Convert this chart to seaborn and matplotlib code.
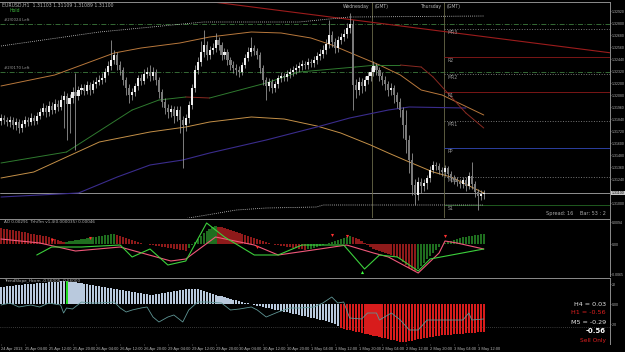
import numpy as np
import matplotlib
matplotlib.use("Agg")
import matplotlib.pyplot as plt
import seaborn as sns

# ---------------- data ----------------
# prices stored in 1/10000 above 1.0 (3185 -> 1.3185); one entry per H1 bar
open_first = 3182
close_pts = [
    3185, 3183, 3181, 3183, 3178, 3181, 3175, 3179, 3183, 3181,
    3185, 3182, 3187, 3191, 3195, 3191, 3197, 3193, 3199, 3196,
    3203, 3207, 3199, 3205, 3211, 3207, 3213, 3215, 3212, 3218,
    3213, 3219, 3221, 3223, 3225, 3231, 3237, 3243, 3248, 3238,
    3233, 3223, 3215, 3208, 3211, 3217, 3225, 3222, 3229, 3231,
    3227, 3231, 3223, 3211, 3201, 3195, 3191, 3194, 3187, 3193,
    3183, 3178, 3185, 3198, 3215, 3233, 3241, 3251, 3258, 3248,
    3253, 3255, 3263, 3258, 3248, 3251, 3243, 3238, 3235, 3233,
    3231, 3238, 3245, 3251, 3255, 3252, 3248, 3235, 3223, 3217,
    3221, 3215, 3219, 3225, 3227, 3226, 3229, 3231, 3233, 3235,
    3237, 3239, 3238, 3241, 3240, 3243, 3247, 3249, 3253, 3259,
    3268, 3261, 3255, 3263, 3266, 3269, 3275, 3279, 3218, 3213,
    3221, 3217, 3223, 3227, 3231, 3237, 3233, 3227, 3223, 3219,
    3213, 3215, 3208, 3201, 3193, 3178, 3163, 3143, 3118, 3108,
    3121, 3117, 3120, 3125, 3133, 3138, 3137, 3133, 3131, 3135,
    3129, 3125, 3123, 3121, 3119, 3123, 3117, 3127, 3119, 3111,
    3107, 3109, 3110]
high_pts = [
    3189, 3188, 3186, 3187, 3186, 3185, 3184, 3183, 3187, 3186,
    3190, 3188, 3191, 3195, 3200, 3198, 3202, 3201, 3204, 3203,
    3208, 3212, 3210, 3209, 3216, 3230, 3217, 3219, 3219, 3222,
    3221, 3223, 3226, 3228, 3230, 3235, 3242, 3263, 3253, 3251,
    3242, 3236, 3226, 3219, 3215, 3220, 3228, 3229, 3234, 3236,
    3238, 3236, 3234, 3226, 3214, 3205, 3199, 3198, 3197, 3197,
    3197, 3187, 3189, 3202, 3219, 3238, 3246, 3262, 3273, 3262,
    3257, 3260, 3270, 3266, 3261, 3255, 3254, 3246, 3242, 3239,
    3237, 3241, 3249, 3256, 3266, 3258, 3255, 3251, 3238, 3226,
    3225, 3224, 3222, 3228, 3231, 3230, 3233, 3235, 3237, 3239,
    3241, 3243, 3242, 3245, 3244, 3247, 3251, 3254, 3258, 3264,
    3283, 3272, 3265, 3267, 3270, 3274, 3280, 3290, 3283, 3224,
    3226, 3225, 3227, 3231, 3236, 3242, 3240, 3236, 3231, 3227,
    3222, 3220, 3218, 3211, 3205, 3196, 3193, 3168, 3150, 3124,
    3126, 3125, 3124, 3128, 3137, 3142, 3141, 3140, 3136, 3138,
    3137, 3132, 3128, 3126, 3124, 3126, 3126, 3131, 3141, 3122,
    3114, 3113, 3113]
low_pts = [
    3178, 3179, 3177, 3176, 3174, 3173, 3170, 3171, 3176, 3177,
    3178, 3178, 3179, 3184, 3188, 3186, 3187, 3189, 3190, 3192,
    3193, 3175, 3163, 3170, 3200, 3153, 3203, 3209, 3208, 3209,
    3208, 3210, 3215, 3218, 3219, 3221, 3228, 3233, 3239, 3233,
    3228, 3218, 3208, 3200, 3203, 3207, 3213, 3218, 3219, 3225,
    3222, 3223, 3218, 3205, 3196, 3189, 3185, 3186, 3180, 3182,
    3170, 3135, 3172, 3180, 3194, 3211, 3229, 3237, 3246, 3243,
    3244, 3249, 3251, 3253, 3243, 3244, 3238, 3233, 3230, 3228,
    3226, 3228, 3235, 3242, 3247, 3248, 3244, 3230, 3218, 3203,
    3212, 3210, 3211, 3215, 3221, 3222, 3222, 3225, 3227, 3229,
    3231, 3233, 3234, 3234, 3236, 3236, 3239, 3243, 3245, 3249,
    3255, 3256, 3250, 3251, 3259, 3262, 3265, 3270, 3193, 3205,
    3208, 3210, 3212, 3219, 3222, 3227, 3228, 3222, 3218, 3213,
    3207, 3208, 3200, 3195, 3186, 3165, 3150, 3130, 3108, 3098,
    3103, 3110, 3112, 3114, 3121, 3130, 3133, 3129, 3127, 3127,
    3125, 3121, 3119, 3117, 3115, 3115, 3112, 3114, 3114, 3106,
    3093, 3103, 3104]

# moving averages / envelopes read as knots (bar index, price pts)
ma_color_bar = [0, 22, 44, 53, 62, 70, 89, 100, 119, 126, 134, 141, 145, 156, 162]
ma_color_val = [3140, 3151, 3193, 3203, 3206, 3205, 3220, 3231, 3236, 3238, 3238, 3236, 3226, 3190, 3175]
ma_up_bar = [0, 18, 38, 47, 60, 70, 84, 94, 104, 111, 119, 127, 134, 141, 148, 162]
ma_up_val = [3217, 3228, 3250, 3255, 3260, 3266, 3271, 3270, 3265, 3258, 3248, 3238, 3228, 3213, 3208, 3188]
ma_lo_bar = [0, 11, 33, 50, 62, 70, 84, 95, 106, 114, 124, 130, 137, 145, 151, 162]
ma_lo_val = [3125, 3131, 3161, 3171, 3176, 3181, 3186, 3184, 3177, 3170, 3158, 3150, 3141, 3131, 3126, 3110]
ma_blue_bar = [0, 26, 39, 50, 61, 70, 89, 106, 117, 130, 137, 156]
ma_blue_val = [3106, 3110, 3126, 3138, 3143, 3150, 3163, 3176, 3185, 3193, 3196, 3195]
env_up_bar = [0, 33, 68, 100, 117, 162]
env_up_val = [3257, 3271, 3281, 3281, 3286, 3287]
env_lo_bar = [44, 63, 69, 79, 89, 106, 108, 162]
env_lo_val = [3073, 3085, 3088, 3093, 3095, 3096, 3098, 3098]
trend_bar = [66, 205]
trend_val = [3303, 3250]

# daily pivot levels (pts)
pivot_names = ["MR3", "R2", "MR2", "R1", "MR1", "PP", "MS1", "S1"]
pivot_vals = [3274, 3246, 3229, 3211, 3182, 3155, 3126, 3098]
level_lines = [3279, 3231]          # green dash-dot levels
level_names = ["#2/0024 Left", "#2/0170 Left"]
last_price = 3110

# AO / trend-trigger panel (x1e-4)
ao_hist = [
    16, 15.5, 15, 14.5, 14, 13.5, 13, 12.5, 12, 11,
    10.5, 10, 9.5, 9, 8.5, 8, 7, 6, 5, 4,
    3, 2, 2.5, 3, 3.5, 4, 4.5, 5, 5.5, 6,
    6.5, 7, 7.5, 8, 8.5, 9, 9.5, 10, 10.5, 9.5,
    8.5, 7.5, 6.5, 5.5, 4.5, 3.5, 2.5, 1.5, 0.5, 0,
    -0.5, -1, -1.5, -2, -2.5, -3, -3.5, -4, -4.5, -5,
    -5.5, -6, -6.5, -4, -1, 2, 5, 8, 11, 13,
    15, 17, 18, 17.5, 17, 16, 15, 14, 13, 12,
    11, 10, 9, 8, 7, 6, 5, 4, 3, 2,
    1, 0, -0.5, -1, -1.5, -2, -2.5, -3, -3.5, -4,
    -4.5, -5, -5.5, -5, -4.5, -4, -3, -2, -1, 0,
    1, 2, 3, 4, 5, 6, 7, 8, 7, 6,
    5, 3, 1, -1, -3, -5, -6, -7, -8, -9,
    -10, -11, -12, -13, -15, -18, -21, -24, -26, -27,
    -25, -22, -19, -15, -12, -9, -6, -3, 0, 1,
    2, 3, 4, 5, 6, 7, 7.5, 8, 8.5, 9,
    9.5, 10, 10.5]
ao_red_bar = [0, 13, 25, 40, 57, 62, 72, 85, 93, 107, 116, 125, 130, 140, 147, 149, 153, 162]
ao_red_val = [5, 1, -7, -3, -17, -15, 7, -1, -11, -5, -1, -9, -13, -29, -9, 3, 1, -5]
ao_grn_bar = [12, 17, 27, 40, 44, 50, 56, 62, 69, 75, 85, 93, 101, 115, 122, 127, 133, 140, 144, 162]
ao_grn_val = [-11, -3, -3, -1, -13, -5, -21, -17, 21, 7, -11, -11, -1, -1, -25, -11, -13, -27, -15, -5]
sell_arrow_bar = [17, 30, 86, 111, 116, 149]
sell_arrow_val = [4, 6, -3, 9, 8, 8]
buy_arrow_bar = [121]
buy_arrow_val = [-28]

# trend-slope panel (x1/50)
slope_hist = [
    17, 17.5, 18, 18, 18.5, 19, 19, 19.5, 20, 20,
    20.5, 20.5, 21, 21, 21.5, 21.5, 22, 22, 22.5, 22.5,
    23, 23, 23, 22.5, 22, 22, 21.5, 21, 20.5, 20,
    19.5, 19, 18.5, 18, 17.5, 17, 16.5, 16, 15.5, 15,
    14.5, 14, 13.5, 13, 12.5, 12, 11.5, 11, 10.5, 10,
    9.5, 9.5, 10, 10.5, 11, 11.5, 12, 12.5, 13, 13.5,
    14, 14.5, 15, 15, 15.5, 15.5, 15, 14, 13, 12,
    11, 10, 9, 8.5, 8, 7, 6, 5, 4.5, 4,
    3, 2, 1.5, 1, 0, -1, -1.5, -2, -3, -3.5,
    -4, -5, -5.5, -6, -7, -7.5, -8, -9, -9.5, -10,
    -11, -11.5, -12, -13, -13.5, -14, -15, -15.5, -16, -17,
    -18, -19, -20, -22, -24, -25, -25.5, -26, -27, -27.5,
    -28, -29, -29.5, -30, -31, -31.5, -32, -33, -33.5, -34,
    -35, -35.5, -36, -37, -37.5, -38, -37.5, -37, -36.5, -36,
    -35, -34.5, -34, -33.5, -33, -32.5, -32, -31.5, -31, -31,
    -30.5, -30.5, -30, -30, -29.5, -29.5, -29, -29, -28.5, -28.5,
    -28, -28, -28]
signal_bar = 22
sell_start = 114
slope_line_bar = [0, 3, 6, 10, 13, 16, 20, 21, 22, 24, 27, 30, 33, 38, 40, 42, 44, 47, 49, 51,
                  53, 56, 58, 61, 63, 66, 69, 74, 77, 80, 84, 86, 89, 93, 97, 100, 105, 108,
                  111, 113, 115, 117, 121, 123, 126, 127, 131, 134, 137, 140, 143, 146, 151,
                  155, 157, 158, 162]
slope_line_val = [-1, 1, -3, -1, -3, 1, -1, -9, -4, -5, 2, 1, 1, 2, -4, -8, -6, -4, -3, -13,
                  -18, -13, -11, -18, -6, 2, 2, 1, -6, -5, -3, -6, -13, -8, -4, -4, -3, 1,
                  7, 1, 2, -14, -15, -9, -9, -16, -9, -16, -26, -26, -16, -16, -16,
                  -16, -9, -16, -15]
tf_labels = ["H4 = 0.03", "H1 = -0.56", "M5 = -0.29", "-0.56", "Sell Only"]

time_labels = ["24 Apr 2013", "25 Apr 04:00", "25 Apr 12:00", "25 Apr 20:00", "26 Apr 04:00",
               "26 Apr 12:00", "26 Apr 20:00", "29 Apr 04:00", "29 Apr 12:00", "29 Apr 20:00",
               "30 Apr 04:00", "30 Apr 12:00", "30 Apr 20:00", "1 May 04:00", "1 May 12:00",
               "1 May 20:00", "2 May 04:00", "2 May 12:00", "2 May 20:00", "3 May 04:00",
               "3 May 12:00"]

# ---------------- figure ----------------
sns.set_theme(style="dark", rc={"axes.facecolor": "black", "figure.facecolor": "black"})
plt.rcParams["font.family"] = ["DejaVu Sans"]
NARROW = ["Liberation Sans Narrow", "Liberation Sans", "DejaVu Sans"]

W, H = 625, 352
fig = plt.figure(figsize=(W / 100, H / 100), dpi=100, facecolor="black")


def axes_px(x0, y0, x1, y1):
    return fig.add_axes([x0 / W, 1 - y1 / H, (x1 - x0) / W, (y1 - y0) / H])


ax_m = axes_px(0, 2, 610, 218)
ax_a = axes_px(0, 219, 610, 276)
ax_b = axes_px(0, 278, 610, 344)

PX = 2.98
XL = (-1 / PX, (610 - 1) / PX)
GRAY = "#b4b4b4"
FS = 3.3
TFS = 2.5

for ax in (ax_m, ax_a, ax_b):
    ax.set_facecolor("black")
    ax.set_xlim(*XL)
    ax.grid(False)
    for s in ("left", "bottom"):
        ax.spines[s].set_visible(False)
    for s in ("top", "right"):
        ax.spines[s].set_visible(True)
        ax.spines[s].set_color("#8c8c8c")
        ax.spines[s].set_linewidth(0.7)
    ax.yaxis.tick_right()
    ax.tick_params(axis="y", colors="#8c8c8c", labelcolor=GRAY, labelsize=TFS,
                   length=1.0, width=0.5, pad=0.5)
    ax.tick_params(axis="x", bottom=False, labelbottom=False)

P = lambda v: 1 + np.asarray(v, dtype=float) / 1e4

# ---- main price panel ----
bars = np.arange(len(close_pts))
c = P(close_pts)
o = np.r_[P(open_first), c[:-1]]
hi = P(high_pts)
lo = P(low_pts)
ax_m.set_ylim(1.3085, 1.3301)

# horizontal reference levels
for lv in level_lines:
    ax_m.axhline(P(lv), color="#3d7a3d", lw=0.6, ls=(0, (6, 2, 1, 2)), zorder=1)
for lv, nm in zip(level_lines, level_names):
    ax_m.text(1, P(lv) + 0.0002, nm, fontsize=2.8, color="#9a9a9a", va="bottom", ha="left")
ax_m.axhline(P(last_price), color="#a8a8a8", lw=0.6, zorder=1)

# day separators
for xv in (124.5, 148.5):
    ax_m.axvline(xv, color="#6a6a4a", lw=0.6, zorder=1)
ax_m.text(123.6, 1.32995, "Wednesday", fontsize=FS, color=GRAY, ha="right", va="top")
ax_m.text(125.4, 1.32995, "(GMT)", fontsize=FS, color=GRAY, ha="left", va="top")
ax_m.text(147.6, 1.32995, "Thursday", fontsize=FS, color=GRAY, ha="right", va="top")
ax_m.text(149.4, 1.32995, "(GMT)", fontsize=FS, color=GRAY, ha="left", va="top")

# pivots
piv_style = {"MR3": ("#777777", ":"), "R2": ("#7a1616", "-"), "MR2": ("#777777", ":"),
             "R1": ("#7a1616", "-"), "MR1": ("#777777", ":"), "PP": ("#2c3fa0", "-"),
             "MS1": ("#777777", ":"), "S1": ("#1f5a1f", "-")}
for nm, pv in zip(pivot_names, pivot_vals):
    col, ls = piv_style[nm]
    ax_m.hlines(P(pv), 148.5, XL[1], color=col, lw=0.7, ls=ls, zorder=1)
    ax_m.text(150.0, P(pv) - 0.0001, nm, fontsize=FS, color="#9a9a9a", va="top", ha="left")

# trend line
sns.lineplot(x=trend_bar, y=P(trend_val), ax=ax_m, color="#9c1c1c", lw=0.8, legend=False)

# envelopes / MAs
sns.lineplot(x=env_up_bar, y=P(env_up_val), ax=ax_m, color="#d8d8d8", lw=0.6,
             ls=(0, (1, 1.5)), legend=False)
sns.lineplot(x=env_lo_bar, y=P(env_lo_val), ax=ax_m, color="#d8d8d8", lw=0.6,
             ls=(0, (1, 1.5)), legend=False)
sns.lineplot(x=ma_up_bar, y=P(ma_up_val), ax=ax_m, color="#b8783c", lw=0.7, legend=False)
sns.lineplot(x=ma_lo_bar, y=P(ma_lo_val), ax=ax_m, color="#c49048", lw=0.7, legend=False)
sns.lineplot(x=ma_blue_bar, y=P(ma_blue_val), ax=ax_m, color="#3a2c8c", lw=0.8, legend=False)
mcv = P(ma_color_val)
for k in range(len(ma_color_bar) - 1):
    col = "#2f7a2f" if mcv[k + 1] >= mcv[k] else "#8a2a22"
    ax_m.plot(ma_color_bar[k:k + 2], mcv[k:k + 2], color=col, lw=0.7, zorder=2)

# candles
ax_m.vlines(bars, lo, hi, color="#a0a0a0", lw=0.55, zorder=3)
bull = c >= o
body = np.where(np.abs(c - o) < 0.00006, 0.00006, c - o)
ax_m.bar(bars, body, bottom=o, width=0.7,
         color=np.where(bull, "#efefef", "#7a7a7a"), linewidth=0, zorder=4)

ptick = [1.3292 - 0.0012 * k for k in range(17) if k != 15]
ax_m.set_yticks(ptick)
ax_m.set_yticklabels([f"{v:.5f}" for v in ptick], family=NARROW)
ax_m.text(XL[1] + 0.55, P(last_price), f"{P(last_price):.5f}", fontsize=TFS, color="black",
          family=NARROW, va="center", ha="left",
          bbox=dict(boxstyle="square,pad=0.05", fc="#c8c8c8", ec="none"),
          clip_on=False, zorder=6)

ax_m.text(0.5, 1.33, "EURUSD,H1  1.31103 1.31109 1.31089 1.31100", fontsize=FS,
          color=GRAY, ha="left", va="top")
ax_m.text(3, 1.3293, "Hold", fontsize=FS, color="#3cb33c", ha="left", va="center")
ax_m.text(203.0, 1.30895, "Spread: 16    Bar: 53 : 2", fontsize=3.6, color="#a8a8a8",
          ha="right", va="center")

# ---- AO panel ----
ax_a.set_ylim(-32, 25)
ao = np.asarray(ao_hist, dtype=float)
ao_col = ["#1f6e1f" if (k > 0 and ao[k] > ao[k - 1]) else "#8e1a1a" for k in range(len(ao))]
ax_a.bar(bars, ao, width=0.75, color=ao_col, linewidth=0, zorder=2)
sns.lineplot(x=ao_red_bar, y=ao_red_val, ax=ax_a, color="#f0587a", lw=0.8, legend=False)
sns.lineplot(x=ao_grn_bar, y=ao_grn_val, ax=ax_a, color="#3cd03c", lw=0.8, legend=False)
ax_a.scatter(sell_arrow_bar, sell_arrow_val, marker="v", s=5, color="#ff3030", zorder=5, linewidths=0)
ax_a.scatter(buy_arrow_bar, buy_arrow_val, marker="^", s=5, color="#40ff40", zorder=5, linewidths=0)
ax_a.set_yticks([22, 0, -30])
ax_a.set_yticklabels(["0.0094", "0.00", "-0.0065"], family=NARROW)
ax_a.text(1, 24, "AO 0.00291  TrhiTrn v1.4(0.000035) 0.00046", fontsize=FS - 0.3,
          color=GRAY, ha="left", va="top")

# ---- trend slope panel ----
ax_b.set_ylim(-40, 26)
sh = np.asarray(slope_hist, dtype=float)
sl_col = ["#b9c9dd"] * len(sh)
sl_col[signal_bar] = "#22dd22"
for k in range(sell_start, len(sh)):
    sl_col[k] = "#d81c1c"
ax_b.bar(bars, sh, width=0.7, color=sl_col, linewidth=0, zorder=2)
ax_b.axhline(-23, color="#707070", lw=0.5, ls=(0, (1, 2)), zorder=1)
sns.lineplot(x=slope_line_bar, y=slope_line_val, ax=ax_b, color="#5f9595", lw=0.6, legend=False)
ax_b.set_yticks([20, 0, -20])
ax_b.set_yticklabels(["20", "0.00", "-20"], family=NARROW)
ax_b.text(1, 25, "TrendSlope_Hcom -0.56005 -0.56000", fontsize=FS - 0.3, color=GRAY,
          ha="left", va="top")
tf_y = [0, -9, -18, -27, -36.5]
tf_c = ["#e6e6e6", "#e02020", "#e6e6e6", "#ffffff", "#e02020"]
tf_fs = [4.6, 4.6, 4.6, 5.0, 4.2]
tf_w = ["normal", "normal", "normal", "bold", "normal"]
for t, yv, cc, fs, fw in zip(tf_labels, tf_y, tf_c, tf_fs, tf_w):
    ax_b.text(203.0, yv, t, fontsize=fs, color=cc, fontweight=fw, ha="right", va="center")

ax_b.set_xticks([8 * k for k in range(len(time_labels))])
ax_b.set_xticklabels(time_labels, family=NARROW)
ax_b.tick_params(axis="x", bottom=True, labelbottom=True, colors="#8c8c8c", labelcolor=GRAY,
                 labelsize=2.9, length=1, width=0.4, pad=1)
for lab in ax_b.get_xticklabels():
    lab.set_ha("left")

fig.savefig("out.png", dpi=100, facecolor="black")
